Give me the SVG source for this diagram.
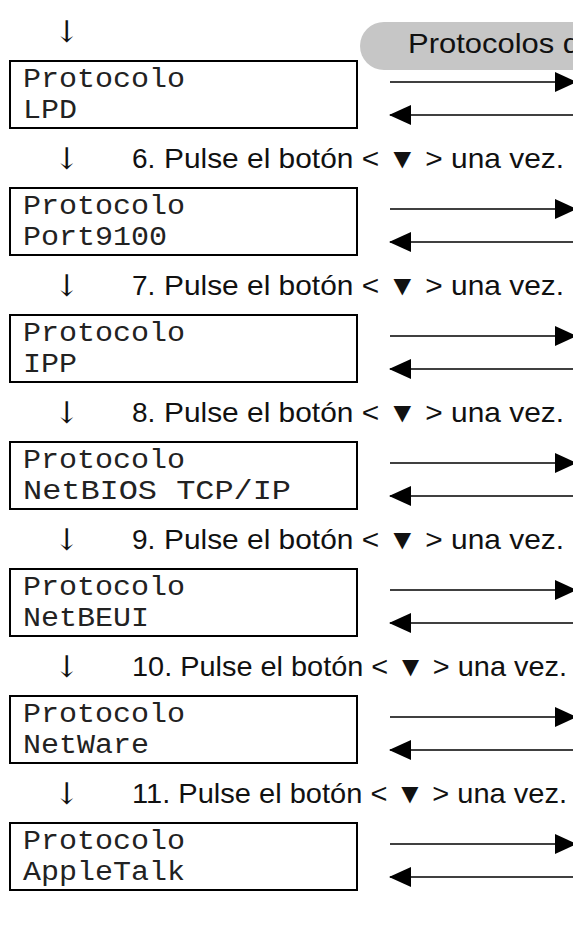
<svg xmlns="http://www.w3.org/2000/svg" width="573" height="936" viewBox="0 0 573 936">
<defs>
<style>
.box{fill:#fff;stroke:#000;stroke-width:2}
.mono{font-family:"Liberation Mono","DejaVu Sans Mono",monospace;font-size:27px;fill:#222}
.step{font-family:"Liberation Sans","DejaVu Sans",Arial,sans-serif;font-size:28px;fill:#111}
.down{font-family:"DejaVu Serif","Liberation Serif",serif;font-size:30px;fill:#111}
.ln{stroke:#000;stroke-width:1.6;fill:none}
.pill{fill:#c6c6c6}
</style>
<marker id="ah" markerWidth="22" markerHeight="20" refX="21" refY="10" orient="auto" markerUnits="userSpaceOnUse">
<path d="M0,0 L22,10 L0,20 Z" fill="#000"/>
</marker>
</defs>
<rect width="573" height="936" fill="#fff"/>
<g id="header">
<path class="pill" d="M384,22 H573 V70 H384 A24,24 0 0 1 384,22 Z"/>
<text x="408" y="53" class="step" textLength="172" lengthAdjust="spacingAndGlyphs">Protocolos d</text>
</g>
<g id="steps">
<text x="54" y="42" class="down">↓</text>
<text x="54" y="169" class="down">↓</text>
<text x="132" y="168" class="step">6.</text>
<text x="164" y="168" class="step" textLength="400" lengthAdjust="spacingAndGlyphs">Pulse el botón &lt; ▼ &gt; una vez.</text>
<text x="54" y="296" class="down">↓</text>
<text x="132" y="295" class="step">7.</text>
<text x="164" y="295" class="step" textLength="400" lengthAdjust="spacingAndGlyphs">Pulse el botón &lt; ▼ &gt; una vez.</text>
<text x="54" y="423" class="down">↓</text>
<text x="132" y="422" class="step">8.</text>
<text x="164" y="422" class="step" textLength="400" lengthAdjust="spacingAndGlyphs">Pulse el botón &lt; ▼ &gt; una vez.</text>
<text x="54" y="550" class="down">↓</text>
<text x="132" y="549" class="step">9.</text>
<text x="164" y="549" class="step" textLength="400" lengthAdjust="spacingAndGlyphs">Pulse el botón &lt; ▼ &gt; una vez.</text>
<text x="54" y="677" class="down">↓</text>
<text x="132" y="676" class="step" textLength="435" lengthAdjust="spacingAndGlyphs">10. Pulse el botón &lt; ▼ &gt; una vez.</text>
<text x="54" y="804" class="down">↓</text>
<text x="132" y="803" class="step" textLength="435" lengthAdjust="spacingAndGlyphs">11. Pulse el botón &lt; ▼ &gt; una vez.</text>
</g>
<g id="node-lpd">
<rect class="box" x="10" y="61" width="347" height="67"/>
<text x="23" y="87" class="mono" textLength="162" lengthAdjust="spacingAndGlyphs">Protocolo</text>
<text x="23" y="118" class="mono" textLength="54" lengthAdjust="spacingAndGlyphs">LPD</text>
</g>
<g id="node-port9100">
<rect class="box" x="10" y="188" width="347" height="67"/>
<text x="23" y="214" class="mono" textLength="162" lengthAdjust="spacingAndGlyphs">Protocolo</text>
<text x="23" y="245" class="mono" textLength="144" lengthAdjust="spacingAndGlyphs">Port9100</text>
</g>
<g id="node-ipp">
<rect class="box" x="10" y="315" width="347" height="67"/>
<text x="23" y="341" class="mono" textLength="162" lengthAdjust="spacingAndGlyphs">Protocolo</text>
<text x="23" y="372" class="mono" textLength="54" lengthAdjust="spacingAndGlyphs">IPP</text>
</g>
<g id="node-netbios">
<rect class="box" x="10" y="442" width="347" height="67"/>
<text x="23" y="468" class="mono" textLength="162" lengthAdjust="spacingAndGlyphs">Protocolo</text>
<text x="23" y="499" class="mono" textLength="268" lengthAdjust="spacingAndGlyphs">NetBIOS TCP/IP</text>
</g>
<g id="node-netbeui">
<rect class="box" x="10" y="569" width="347" height="67"/>
<text x="23" y="595" class="mono" textLength="162" lengthAdjust="spacingAndGlyphs">Protocolo</text>
<text x="23" y="626" class="mono" textLength="126" lengthAdjust="spacingAndGlyphs">NetBEUI</text>
</g>
<g id="node-netware">
<rect class="box" x="10" y="696" width="347" height="67"/>
<text x="23" y="722" class="mono" textLength="162" lengthAdjust="spacingAndGlyphs">Protocolo</text>
<text x="23" y="753" class="mono" textLength="126" lengthAdjust="spacingAndGlyphs">NetWare</text>
</g>
<g id="node-appletalk">
<rect class="box" x="10" y="823" width="347" height="67"/>
<text x="23" y="849" class="mono" textLength="162" lengthAdjust="spacingAndGlyphs">Protocolo</text>
<text x="23" y="880" class="mono" textLength="162" lengthAdjust="spacingAndGlyphs">AppleTalk</text>
</g>
<g id="connectors">
<path class="ln" d="M390,82 H576" marker-end="url(#ah)"/>
<path class="ln" d="M573,115 H390" marker-end="url(#ah)"/>
<path class="ln" d="M390,209 H576" marker-end="url(#ah)"/>
<path class="ln" d="M573,242 H390" marker-end="url(#ah)"/>
<path class="ln" d="M390,336 H576" marker-end="url(#ah)"/>
<path class="ln" d="M573,369 H390" marker-end="url(#ah)"/>
<path class="ln" d="M390,463 H576" marker-end="url(#ah)"/>
<path class="ln" d="M573,496 H390" marker-end="url(#ah)"/>
<path class="ln" d="M390,590 H576" marker-end="url(#ah)"/>
<path class="ln" d="M573,623 H390" marker-end="url(#ah)"/>
<path class="ln" d="M390,717 H576" marker-end="url(#ah)"/>
<path class="ln" d="M573,750 H390" marker-end="url(#ah)"/>
<path class="ln" d="M390,844 H576" marker-end="url(#ah)"/>
<path class="ln" d="M573,877 H390" marker-end="url(#ah)"/>
</g>
</svg>
